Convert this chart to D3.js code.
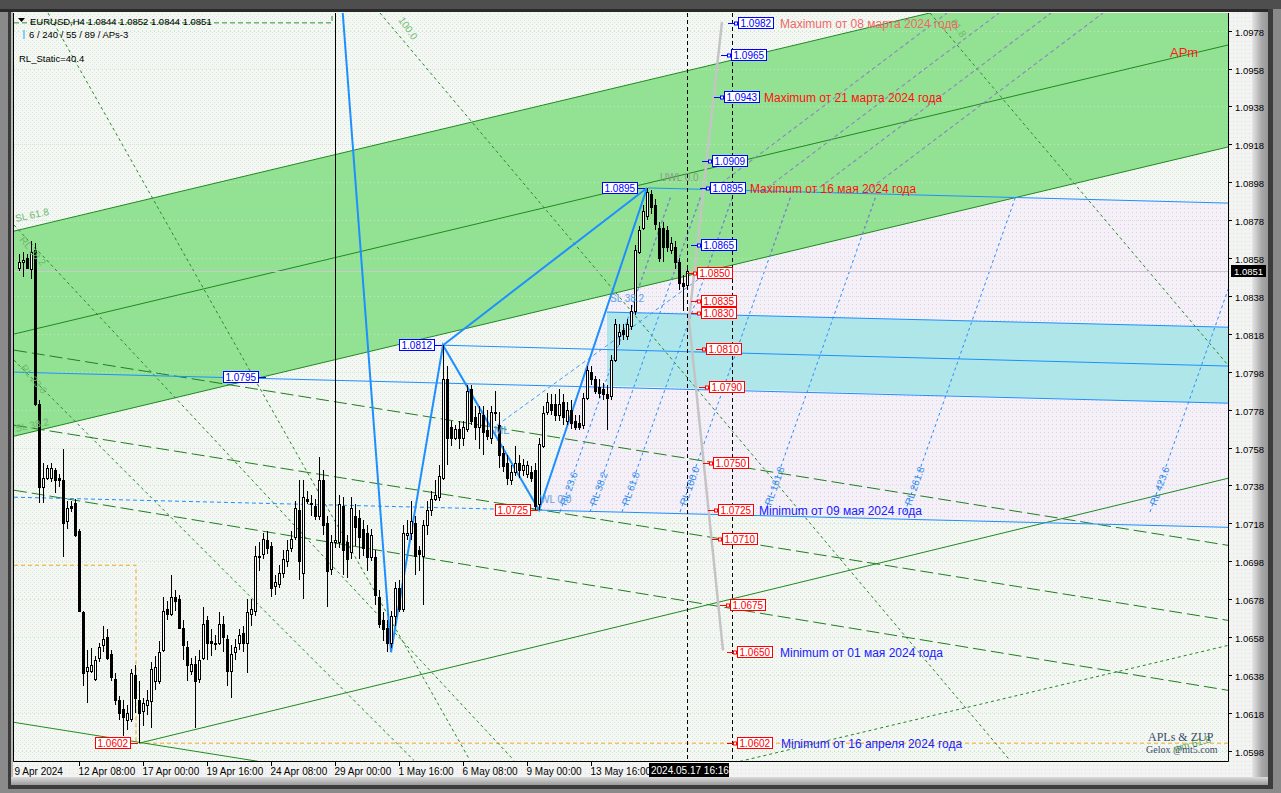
<!DOCTYPE html>
<html><head><meta charset="utf-8">
<script src="https://cdn.jsdelivr.net/npm/d3@7"></script>
<style>body{margin:0;background:#808080;overflow:hidden}svg{display:block}</style>
</head><body>
<svg id="c" width="1281" height="793"></svg>
<script>
// ---------------- DATA ----------------
const candles = [
[1.0853,1.0860,1.0851,1.0856],[1.0856,1.0861,1.0848,1.0857],[1.0858,1.0860,1.0852,1.0853],[1.0852,1.0867,1.0847,1.0861],
[1.0862,1.0866,1.0780,1.0781],[1.0781,1.0783,1.0729,1.0737],[1.0737,1.0750,1.0729,1.0742],[1.0742,1.0749,1.0741,1.0747],
[1.0742,1.0750,1.0740,1.0747],[1.0746,1.0747,1.0734,1.0741],[1.0742,1.0744,1.0737,1.0741],[1.0741,1.0757,1.0700,1.0718],
[1.0719,1.0730,1.0715,1.0726],[1.0727,1.0730,1.0724,1.0726],[1.0729,1.0731,1.0711,1.0712],[1.0714,1.0715,1.0671,1.0672],
[1.0671,1.0672,1.0632,1.0639],[1.0640,1.0651,1.0623,1.0642],[1.0640,1.0652,1.0639,1.0643],[1.0636,1.0648,1.0635,1.0646],
[1.0647,1.0655,1.0645,1.0653],[1.0654,1.0664,1.0650,1.0657],[1.0658,1.0662,1.0646,1.0647],[1.0649,1.0651,1.0635,1.0637],
[1.0636,1.0639,1.0622,1.0625],[1.0625,1.0627,1.0614,1.0618],[1.0620,1.0625,1.0606,1.0616],[1.0614,1.0622,1.0609,1.0618],
[1.0615,1.0641,1.0613,1.0639],[1.0638,1.0643,1.0618,1.0626],[1.0625,1.0635,1.0602,1.0618],[1.0619,1.0626,1.0611,1.0623],
[1.0622,1.0630,1.0617,1.0625],[1.0624,1.0645,1.0610,1.0641],[1.0635,1.0648,1.0630,1.0642],[1.0635,1.0656,1.0633,1.0650],
[1.0651,1.0679,1.0650,1.0672],[1.0673,1.0677,1.0667,1.0670],[1.0670,1.0691,1.0669,1.0679],[1.0679,1.0683,1.0672,1.0677],
[1.0678,1.0680,1.0662,1.0663],[1.0663,1.0667,1.0646,1.0654],[1.0653,1.0656,1.0635,1.0643],[1.0640,1.0647,1.0638,1.0644],
[1.0644,1.0648,1.0610,1.0635],[1.0636,1.0651,1.0634,1.0646],[1.0647,1.0674,1.0646,1.0665],[1.0667,1.0669,1.0646,1.0655],
[1.0656,1.0662,1.0648,1.0655],[1.0655,1.0659,1.0651,1.0655],[1.0655,1.0671,1.0654,1.0665],[1.0665,1.0669,1.0650,1.0658],
[1.0657,1.0659,1.0632,1.0640],[1.0640,1.0654,1.0626,1.0649],[1.0650,1.0657,1.0646,1.0653],[1.0655,1.0662,1.0651,1.0659],
[1.0660,1.0664,1.0650,1.0655],[1.0655,1.0678,1.0639,1.0671],[1.0670,1.0678,1.0664,1.0673],[1.0672,1.0706,1.0669,1.0701],
[1.0700,1.0708,1.0693,1.0701],[1.0702,1.0713,1.0699,1.0710],[1.0709,1.0714,1.0702,1.0705],[1.0706,1.0708,1.0679,1.0684],
[1.0685,1.0691,1.0680,1.0687],[1.0686,1.0696,1.0684,1.0692],[1.0692,1.0704,1.0689,1.0699],[1.0698,1.0709,1.0695,1.0704],
[1.0705,1.0714,1.0703,1.0710],[1.0711,1.0730,1.0709,1.0726],[1.0725,1.0741,1.0688,1.0698],[1.0692,1.0741,1.0678,1.0732],
[1.0731,1.0735,1.0728,1.0730],[1.0729,1.0733,1.0722,1.0728],[1.0727,1.0731,1.0720,1.0722],[1.0722,1.0753,1.0720,1.0741],
[1.0741,1.0746,1.0712,1.0717],[1.0718,1.0722,1.0674,1.0693],[1.0694,1.0712,1.0691,1.0708],[1.0708,1.0995,1.0705,1.0709],
[1.0708,1.0733,1.0705,1.0728],[1.0727,1.0732,1.0691,1.0704],[1.0708,1.0712,1.0689,1.0699],[1.0703,1.0732,1.0699,1.0726],
[1.0722,1.0728,1.0706,1.0716],[1.0721,1.0725,1.0699,1.0711],[1.0715,1.0720,1.0701,1.0705],[1.0713,1.0717,1.0693,1.0700],
[1.0700,1.0715,1.0698,1.0712],[1.0700,1.0704,1.0675,1.0680],[1.0679,1.0683,1.0663,1.0665],[1.0667,1.0671,1.0656,1.0662],
[1.0663,1.0667,1.0650,1.0655],[1.0655,1.0672,1.0652,1.0669],[1.0669,1.0687,1.0664,1.0684],[1.0684,1.0688,1.0671,1.0673],
[1.0673,1.0717,1.0671,1.0713],[1.0712,1.0720,1.0709,1.0713],[1.0713,1.0730,1.0709,1.0719],[1.0718,1.0722,1.0691,1.0701],
[1.0704,1.0706,1.0693,1.0702],[1.0701,1.0720,1.0675,1.0717],[1.0717,1.0730,1.0712,1.0725],[1.0725,1.0735,1.0722,1.0731],
[1.0731,1.0741,1.0730,1.0733],[1.0732,1.0749,1.0730,1.0743],[1.0742,1.0812,1.0741,1.0794],[1.0794,1.0801,1.0749,1.0763],
[1.0769,1.0772,1.0759,1.0763],[1.0763,1.0770,1.0762,1.0768],[1.0768,1.0772,1.0757,1.0763],[1.0763,1.0772,1.0759,1.0769],
[1.0768,1.0791,1.0766,1.0788],[1.0789,1.0791,1.0770,1.0772],[1.0774,1.0780,1.0762,1.0769],[1.0769,1.0780,1.0757,1.0776],
[1.0775,1.0780,1.0754,1.0766],[1.0767,1.0778,1.0762,1.0764],[1.0763,1.0780,1.0760,1.0777],[1.0776,1.0788,1.0772,1.0777],
[1.0770,1.0777,1.0747,1.0754],[1.0755,1.0759,1.0745,1.0748],[1.0750,1.0754,1.0738,1.0742],[1.0741,1.0749,1.0738,1.0745],
[1.0745,1.0759,1.0743,1.0750],[1.0750,1.0754,1.0742,1.0746],[1.0746,1.0752,1.0743,1.0749],[1.0744,1.0751,1.0742,1.0749],
[1.0745,1.0748,1.0740,1.0742],[1.0746,1.0750,1.0725,1.0727],[1.0728,1.0763,1.0725,1.0760],[1.0759,1.0780,1.0758,1.0776],
[1.0777,1.0787,1.0775,1.0782],[1.0781,1.0786,1.0775,1.0778],[1.0781,1.0786,1.0772,1.0775],[1.0775,1.0789,1.0772,1.0781],
[1.0782,1.0786,1.0770,1.0774],[1.0772,1.0782,1.0770,1.0778],[1.0778,1.0783,1.0768,1.0771],[1.0772,1.0775,1.0767,1.0769],
[1.0771,1.0775,1.0767,1.0769],[1.0770,1.0787,1.0768,1.0784],[1.0784,1.0801,1.0783,1.0799],[1.0798,1.0801,1.0791,1.0794],
[1.0794,1.0796,1.0786,1.0788],[1.0790,1.0794,1.0784,1.0787],[1.0789,1.0792,1.0783,1.0786],[1.0786,1.0791,1.0767,1.0784],
[1.0785,1.0807,1.0783,1.0804],[1.0804,1.0826,1.0803,1.0823],[1.0817,1.0823,1.0812,1.0819],[1.0820,1.0823,1.0815,1.0818],
[1.0817,1.0826,1.0815,1.0823],[1.0822,1.0833,1.0820,1.0830],[1.0830,1.0865,1.0828,1.0862],[1.0861,1.0875,1.0860,1.0873],
[1.0874,1.0886,1.0873,1.0883],[1.0880,1.0895,1.0878,1.0893],[1.0892,1.0894,1.0881,1.0885],[1.0886,1.0889,1.0873,1.0876],
[1.0874,1.0877,1.0856,1.0858],[1.0874,1.0877,1.0856,1.0864],[1.0873,1.0875,1.0861,1.0864],[1.0862,1.0869,1.0860,1.0866],
[1.0864,1.0867,1.0852,1.0856],[1.0856,1.0858,1.0841,1.0845],[1.0845,1.0849,1.0830,1.0843],[1.0844,1.0852,1.0844,1.0851]
];
const priceTicks = [1.0978,1.0958,1.0938,1.0918,1.0898,1.0878,1.0858,1.0838,1.0818,1.0798,1.0778,1.0758,1.0738,1.0718,1.0698,1.0678,1.0658,1.0638,1.0618,1.0598];
const timeTickBars = [-1,15,31,47,63,79,95,111,127,143];
const timeTickLabels = ["9 Apr 2024","12 Apr 08:00","17 Apr 00:00","19 Apr 16:00","24 Apr 08:00","29 Apr 00:00","1 May 16:00","6 May 08:00","9 May 00:00","13 May 16:00"];
const lastPrice = 1.0851;
const crossBar = 167, crossLabel = "2024.05.17 16:16";
const secondVBar = 178.25;

// channel / object lines as [barIndex, price]
const chUpper = [[-1.25,1.08722],[302.25,1.10248]];
const chMiddle = [[-1.25,1.08179],[302.25,1.09704]];
const chLower = [[-1.25,1.07640],[302.25,1.09166]];
const chRising = [[30,1.0602],[302.25,1.07418]];
const chWm = [[180.25,1.05924],[302.25,1.06536]];
const descLines = [
  [[-1.25,1.08094],[302.25,1.07064]],
  [[-1.25,1.07698],[302.25,1.06668]],
  [[-1.25,1.07355],[302.25,1.06299]]
];
const descSolid = [[-1.25,1.06130],[302.25,1.05106]];
const fanLines = [
  [[-1.25,1.08754],[123.75,1.05929]],
  [[-1.25,1.08041],[98.75,1.05929]],
  [[7.25,1.09873],[112.75,1.05929]],
  [[90.25,1.09873],[247.75,1.05929]],
  [[227.75,1.09873],[302.25,1.08015]]
];
const blueLevels = [
  [[157.25,1.0895],[302.25,1.0887]],
  [[147,1.08295],[302.25,1.08215]],
  [[106,1.0812],[302.25,1.08010]],
  [[-1.25,1.07978],[302.25,1.07814]],
  [[130,1.0725],[302.25,1.07159]]
];
const blueDashedLevel = [[-1.25,1.07318],[130,1.0725]];
const medianLine = [[119.5,1.07698],[170.25,1.08474]];
const cyanTop = [[147,1.08295],[302.25,1.08215]];
const cyanBottom = [[147,1.07906],[302.25,1.07814]];
const lavender = [[130,1.0725],[157,1.0895],[302.25,1.0887],[302.25,1.07159]];
const zigzag = [[80.5,1.09995],[93,1.0650],[106,1.0812],[130,1.0725],[157,1.0895]];
const zigExtra = [[106,1.0812],[157,1.0895]];
const zupGray = [[175.75,1.09826],[167.5,1.08252],[176,1.0651]];
const rlStartBars = [135.25,142.75,150.75,165.25,186.5,221.5,282.75];
const rlNames = ["RL 23.6","RL 38.2","RL 61.8","RL 100.0","RL 161.8","RL 261.8","RL 423.6"];
const rlBottomPrice = 1.0724, rlTopPrice = 1.0890, rlRun = 27.6;
const slStartBars = [172.75,185.75,198.75,211.75];
const slBottomPrice = 1.0893, slTopPrice = 1.09873, slRun = 59.25;
const orangeLines = [[[-1.25,1.06959],[29.25,1.06959],[29.25,1.0602]],[[30,1.0602],[302.25,1.0602]]];
const topRect = [[-1.25,1.09821],[78.25,1.09821],[78.25,1.0990]];

const rightLabelsBlue = [1.0982,1.0965,1.0943,1.0909,1.0895,1.0865];
const rightLabelsRed = [1.0850,1.0835,1.0830,1.0810,1.0790,1.0750,1.0725,1.0710,1.0675,1.0650,1.0602];
const pivotLabels = [[1.0895,"b"],[1.0812,"b"],[1.0795,"b"],[1.0725,"r"],[1.0602,"r"]];
const notes = [
  [1.0982,"Maximum от 08 марта 2024 года"],
  [1.0943,"Maximum от 21 марта 2024 года"],
  [1.0895,"Maximum от 16 мая 2024 года"],
  [1.0725,"Minimum от 09 мая 2024 года"],
  [1.0650,"Minimum от 01 мая 2024 года"],
  [1.0602,"Minimum от 16 апреля 2024 года"]
];

// ---------------- LAYOUT ----------------
const P = {x0:14, x1:1228, y0:13, y1:761};
const blueLabelX = [738,731,724,712,710,701];
const redLabelX = [697,701,701,706,709,713,718,722,730,737,737];
const redLabelDy = [0,-1,2,0,0,0,0,0,0,0,0];
const pivotLabelX = [602,399,223,495,95];
const noteX = [780,764,750,759,780,781];
const noteCol = ["#f06868","#ff1010","#ff1010","#2020ff","#2020ff","#2020ff"];
const FONT = "'Liberation Sans', Arial, sans-serif";

const svg = d3.select("#c");
const x = d3.scaleLinear().domain([0,167]).range([19,687]);
const y = d3.scaleLinear().domain([1.05926,1.09873]).range([P.y1,P.y0]);
const line = d3.line().x(d=>x(d[0])).y(d=>y(d[1]));

const defs = svg.append("defs");
defs.append("clipPath").attr("id","plot").append("rect").attr("x",P.x0).attr("y",P.y0).attr("width",P.x1-P.x0).attr("height",P.y1-P.y0);
const mkPat=(id,base,dots)=>{const p=defs.append("pattern").attr("id",id).attr("width",4).attr("height",4).attr("patternUnits","userSpaceOnUse");
  p.append("rect").attr("width",4).attr("height",4).attr("fill",base);
  dots.forEach(d=>p.append("rect").attr("x",d[0]).attr("y",d[1]).attr("width",1).attr("height",1).attr("fill",d[2]));};
mkPat("dots","#f3f8f2",[[0,0,"#e6d8ea"],[2,2,"#d6ecd6"]]);
mkPat("dotsL","#f3f0f7",[[0,0,"#e8cce8"]]);
mkPat("dotsA","#f2f4f2",[[1,1,"#ead8ea"]]);

// ---- window frame ----
svg.append("rect").attr("width",1281).attr("height",793).attr("fill","#8a8a8a");
svg.append("rect").attr("x",0).attr("y",0).attr("width",1281).attr("height",9).attr("fill","#4e4e4e");
svg.append("rect").attr("x",0).attr("y",9).attr("width",1281).attr("height",3).attr("fill","#2a2a2a");
svg.append("rect").attr("x",8).attr("y",12).attr("width",3).attr("height",775).attr("fill","#3a3a3a");
svg.append("rect").attr("x",11).attr("y",12).attr("width",1259).attr("height",774).attr("fill","#b8b8b8");
svg.append("rect").attr("x",13).attr("y",12).attr("width",1242).attr("height",766).attr("fill","url(#dotsA)");
const rg = defs.append("linearGradient").attr("id","rb").attr("x1","0").attr("x2","1");
rg.append("stop").attr("offset","0").attr("stop-color","#e6e6e6");
rg.append("stop").attr("offset","0.6").attr("stop-color","#a8a8a8");
rg.append("stop").attr("offset","1").attr("stop-color","#989898");
svg.append("rect").attr("x",1252).attr("y",12).attr("width",16).attr("height",774).attr("fill","url(#rb)");
svg.append("rect").attr("x",1268).attr("y",9).attr("width",5).attr("height",780).attr("fill","#3c3c3c");
svg.append("rect").attr("x",1273).attr("y",9).attr("width",8).attr("height",784).attr("fill","#8a8a8a");
const bg = defs.append("linearGradient").attr("id","bb").attr("x1","0").attr("x2","0").attr("y1","0").attr("y2","1");
bg.append("stop").attr("offset","0").attr("stop-color","#dcdcdc");
bg.append("stop").attr("offset","1").attr("stop-color","#9a9a9a");
svg.append("rect").attr("x",11).attr("y",777).attr("width",1257).attr("height",8).attr("fill","url(#bb)");
svg.append("rect").attr("x",8).attr("y",785).attr("width",1265).attr("height",4).attr("fill","#3c3c3c");
svg.append("rect").attr("x",0).attr("y",789).attr("width",1281).attr("height",4).attr("fill","#8a8a8a");

// ---- plot background ----
svg.append("rect").attr("x",P.x0).attr("y",P.y0).attr("width",P.x1-P.x0).attr("height",P.y1-P.y0).attr("fill","url(#dots)");
const g = svg.append("g").attr("clip-path","url(#plot)");

const greenPoly = line([chUpper[0],chUpper[1],chLower[1],chLower[0]])+"Z";
g.append("path").attr("d",line(lavender)+"Z").attr("fill","url(#dotsL)");
g.append("path").attr("d",greenPoly).attr("fill","#93e293");
g.append("path").attr("d",line([cyanTop[0],cyanTop[1],cyanBottom[1],cyanBottom[0]])+"Z").attr("fill","#aee6ea");

priceTicks.forEach(p=>g.append("line").attr("x1",P.x0).attr("x2",P.x1).attr("y1",Math.round(y(p))+0.5).attr("y2",Math.round(y(p))+0.5)
  .attr("stroke","#c6e6c6").attr("stroke-dasharray","1,3"));

const path=(d,col,dash,w)=>{const p=g.append("path").attr("d",d).attr("fill","none").attr("stroke",col).attr("stroke-width",w||1); if(dash) p.attr("stroke-dasharray",dash); return p;};

orangeLines.forEach(l=>path(line(l),"#f5a623","4,3"));
path(line(topRect),"#2e8b2e","5,3");
fanLines.forEach(l=>path(line(l),"#2a8a2a","3,3"));
descLines.forEach(l=>path(line(l),"#1f7f1f","13,5"));
path(line(descSolid),"#1f8f1f");
[chUpper,chMiddle,chLower,chRising].forEach(l=>path(line(l),"#1f8a1f"));
path(line(chWm),"#1f8a1f","3,3");

// RL lines (blue dashed; grey-violet where they cross the green channel)
const rlData = rlStartBars.map(b=>[[b,rlBottomPrice],[b+rlRun,rlTopPrice]]);
rlData.forEach(l=>path(line(l),"#2a8cff","3,3"));
defs.append("clipPath").attr("id","greenclip").append("path").attr("d",greenPoly);
const gg = g.append("g").attr("clip-path","url(#greenclip)");
rlData.forEach(l=>gg.append("path").attr("d",line(l)).attr("fill","none").attr("stroke","#8c86c0").attr("stroke-width",1.2).attr("stroke-dasharray","3,3"));
const slData = slStartBars.map(b=>[[b,slBottomPrice],[b+slRun,slTopPrice]]);
slData.forEach(l=>path(line(l),"#8c86c0","4,3",1.1));

blueLevels.forEach(l=>path(line(l),"#1e8fff"));
path(line(blueDashedLevel),"#1e8fff","4,3");
path(line(medianLine),"#3d9bff","4,3");

g.append("line").attr("x1",P.x0).attr("x2",P.x1).attr("y1",Math.round(y(lastPrice))+0.5).attr("y2",Math.round(y(lastPrice))+0.5).attr("stroke","#cfc6d4");

path(line(zigzag),"#1e8fff",null,2);
path(line(zigExtra),"#1e8fff",null,2);
path(line(zupGray),"#c4c4c4",null,2.5);

[crossBar, secondVBar].forEach(b=>g.append("line").attr("x1",Math.round(x(b))+0.5).attr("x2",Math.round(x(b))+0.5).attr("y1",P.y0).attr("y2",P.y1)
  .attr("stroke","#000").attr("stroke-dasharray","4,3"));

// candles
const cg = g.append("g").attr("shape-rendering","crispEdges");
candles.forEach((d,i)=>{
  const [o,h,l,c] = d;
  const px = Math.round(x(i));
  const yh = Math.round(y(h)), yl = Math.round(y(l));
  const yo = Math.round(y(o)), yc = Math.round(y(c));
  cg.append("rect").attr("x",px).attr("y",yh).attr("width",1).attr("height",Math.max(1,yl-yh)).attr("fill","#000");
  const top = Math.min(yo,yc), bot = Math.max(yo,yc);
  const hh = Math.max(1,bot-top);
  cg.append("rect").attr("x",px-1).attr("y",top).attr("width",3).attr("height",hh+1).attr("fill","#000");
  if (c>o && hh>1) cg.append("rect").attr("x",px).attr("y",top+1).attr("width",1).attr("height",hh-1).attr("fill","#fff");
});

const T = (xx,yy,txt,col,size,rot)=>{ const t=g.append("text").attr("x",xx).attr("y",yy).text(txt).attr("fill",col)
  .attr("font-family",FONT).attr("font-size",size); if(rot) t.attr("transform",`rotate(${rot},${xx},${yy})`); return t;};
rlData.forEach((l,k)=>{ const xx=x(l[0][0])+6, yy=y(l[0][1])-6; T(xx,yy,rlNames[k],"#3a8ff0",10,-70); });
T(16,222,"SL 61.8","#6fb86f",10,-12);
T(19,240,"RL 38.2","#6fb86f",10,50);
T(20,368,"RL 23.6","#6fb86f",10,50);
T(16,432,"SL 38.2","#6fb86f",10,-12);
T(398,20,"100.0","#6fb86f",10,55);
T(950,22,"61.8","#6fb86f",10,55);
T(660,181,"UWL 0.0","#8c9a8c",10,0);
T(494,434,"ML","#5aa0e8",11,0);
T(540,503,"WL 0.0","#5aa0e8",10,0);
T(610,302,"SL 38.2","#5aa0e8",10,0);
T(1175,752,"wm 61.8","#58a858",10,-15);
T(1170,57,"APm","#ff1a1a",13,0);

function priceBox(val,xl,col,leftConn,dy){
  const yy = Math.round(y(val))+0.5+(dy||0);
  const w=35,h=11;
  if(leftConn!==false){
    g.append("line").attr("x1",xl-10).attr("x2",xl).attr("y1",yy).attr("y2",yy).attr("stroke",col);
    g.append("rect").attr("x",xl-3.5).attr("y",yy-1.5).attr("width",3).attr("height",3).attr("fill","#fff").attr("stroke",col);
  } else {
    g.append("line").attr("x1",xl+w).attr("x2",xl+w+8).attr("y1",yy).attr("y2",yy).attr("stroke",col);
  }
  g.append("rect").attr("x",Math.round(xl)+0.5).attr("y",yy-6).attr("width",w).attr("height",h).attr("fill","#fff").attr("stroke",col);
  g.append("text").attr("x",xl+2.5).attr("y",yy+3.5).text(val.toFixed(4)).attr("fill",col).attr("font-family",FONT).attr("font-size",10);
}
rightLabelsBlue.forEach((v,k)=>priceBox(v,blueLabelX[k],"#0000ff"));
rightLabelsRed.forEach((v,k)=>priceBox(v,redLabelX[k],"#ff0000",true,redLabelDy[k]));
pivotLabels.forEach((d,k)=>priceBox(d[0],pivotLabelX[k],d[1]==="b"?"#0000ff":"#ff0000",false));
notes.forEach((d,k)=>T(noteX[k],Math.round(y(d[0]))+5,d[1],noteCol[k],12,0));

svg.append("path").attr("d",`M${P.x0-0.5},${P.y0}V${P.y1+0.5}H${P.x1+0.5}V${P.y0}`).attr("fill","none").attr("stroke","#000");

// header
svg.append("path").attr("d","M18,18 h7 l-3.5,4z").attr("fill","#000");
svg.append("text").attr("x",30).attr("y",25).text("EURUSD,H4  1.0844 1.0852 1.0844 1.0851").attr("font-family",FONT).attr("font-size",9.5).attr("fill","#000");
svg.append("rect").attr("x",23).attr("y",30).attr("width",2).attr("height",9).attr("fill","#7fd0ff");
svg.append("text").attr("x",29).attr("y",38).text("6 / 240 / 55 / 89 / APs-3").attr("font-family",FONT).attr("font-size",9.5).attr("fill","#000");
svg.append("text").attr("x",19).attr("y",62).text("RL_Static=40.4").attr("font-family",FONT).attr("font-size",9.5).attr("fill","#000");
svg.append("text").attr("x",1148).attr("y",741).text("APLs & ZUP").attr("font-family","'Liberation Serif', serif").attr("font-size",12).attr("fill","#3a4a6a");
svg.append("text").attr("x",1146).attr("y",753).text("Gelox @mt5.com").attr("font-family","'Liberation Serif', serif").attr("font-size",10).attr("fill","#3a4a6a");

// price axis
const ax = svg.append("g");
priceTicks.forEach(p=>{
  const yy = Math.round(y(p))+0.5;
  ax.append("line").attr("x1",P.x1).attr("x2",P.x1+4).attr("y1",yy).attr("y2",yy).attr("stroke","#000");
  ax.append("text").attr("x",P.x1+7).attr("y",yy+4).text(p.toFixed(4)).attr("font-family",FONT).attr("font-size",9.5).attr("fill","#000");
});
const ly = Math.round(y(lastPrice));
ax.append("rect").attr("x",P.x1+3).attr("y",ly-6).attr("width",35).attr("height",12).attr("fill","#000");
ax.append("text").attr("x",P.x1+6).attr("y",ly+4).text(lastPrice.toFixed(4)).attr("font-family",FONT).attr("font-size",9.5).attr("fill","#fff");

// time axis
timeTickBars.forEach((b,k)=>{
  const xx = Math.round(x(b))+0.5;
  if (k>0) ax.append("line").attr("x1",xx).attr("x2",xx).attr("y1",P.y1).attr("y2",P.y1+5).attr("stroke","#000");
  ax.append("text").attr("x",xx-1).attr("y",P.y1+14).text(timeTickLabels[k]).attr("font-family",FONT).attr("font-size",10).attr("fill","#000");
});
const cx = Math.round(x(crossBar));
ax.append("rect").attr("x",cx-38).attr("y",P.y1+2).attr("width",80).attr("height",14).attr("fill","#000");
ax.append("text").attr("x",cx-36).attr("y",P.y1+13).text(crossLabel).attr("font-family",FONT).attr("font-size",10).attr("fill","#fff");
</script>
</body></html>
